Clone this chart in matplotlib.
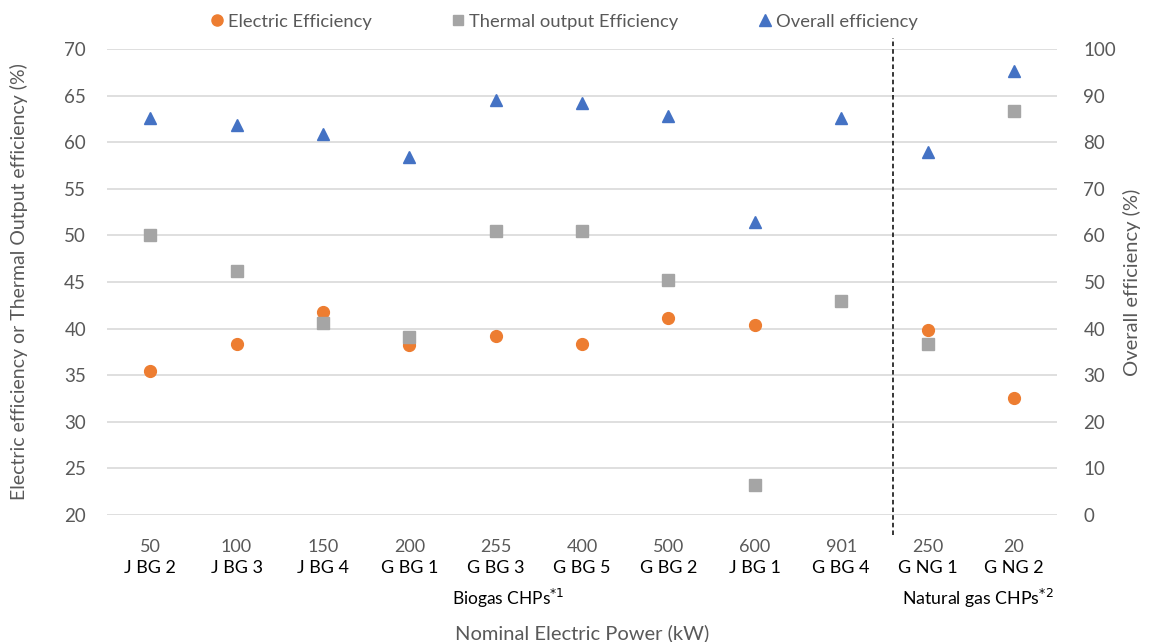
import numpy as np
import matplotlib
matplotlib.use('Agg')

import matplotlib.pyplot as plt
from matplotlib.lines import Line2D

plt.rcParams['font.family'] = ['Lato', 'DejaVu Sans']

# Nominal power (kW) and unit names
power_kw = ["50", "100", "150", "200", "255", "400", "500", "600", "901", "250", "20"]
units = ["J BG 2", "J BG 3", "J BG 4", "G BG 1", "G BG 3", "G BG 5",
         "G BG 2", "J BG 1", "G BG 4", "G NG 1", "G NG 2"]

# Efficiencies in %
electric = [35.5, 38.4, 41.8, 38.2, 39.2, 38.4, 41.1, 40.35, np.nan, 39.9, 32.6]
thermal = [50.0, 46.15, 40.6, 39.1, 50.5, 50.5, 45.2, 23.2, 43.0, 38.35, 63.3]
overall = [85.1, 83.6, 81.7, 76.9, 89.0, 88.5, 85.6, 62.9, 85.1, 77.8, 95.2]

groups = ["Biogas CHPs$^{*1}$", "Natural gas CHPs$^{*2}$"]
n_biogas = 9

ORANGE = "#ED7D31"
GREY = "#A5A5A5"
BLUE = "#4472C4"
TEXT = "#595959"


def main():
    fig = plt.figure(figsize=(11.49, 6.42), dpi=100)
    ax = fig.add_axes([0.0931, 0.1978, 0.8269, 0.7259])
    ax2 = ax.twinx()

    x = np.arange(len(units))

    ax.plot(x, electric, 'o', color=ORANGE, markersize=8.5, zorder=3)
    ax.plot(x, thermal, 's', color=GREY, markersize=8, zorder=3)
    ax2.plot(x, overall, '^', color=BLUE, markersize=8.5, zorder=3)

    ax.set_xlim(-0.5, len(units) - 0.5)
    ax.set_ylim(20, 70)
    ax.set_yticks(np.arange(20, 71, 5))
    ax2.set_ylim(0, 100)
    ax2.set_yticks(np.arange(0, 101, 10))

    ax.grid(axis='y', color='#D9D9D9', linewidth=1.2)
    ax.set_axisbelow(True)
    for a in (ax, ax2):
        for s in a.spines.values():
            s.set_visible(False)
        a.tick_params(length=0, labelsize=13.5, labelcolor=TEXT)
    ax.tick_params(axis='y', pad=15)
    ax2.tick_params(axis='y', pad=19)

    ax.set_xticks(x)
    ax.set_xticklabels(power_kw)
    ax.tick_params(axis='x', pad=17, labelsize=13)

    # unit names under the power values
    trans = ax.get_xaxis_transform()
    for xi, name in zip(x, units):
        ax.text(xi, -0.114, name, transform=trans, ha='center', va='center',
                fontsize=13, color='black')

    # group labels
    ax.text(4.15, -0.18, groups[0], transform=trans,
            ha='center', va='center', fontsize=12.5, color='black')
    ax.text(9.58, -0.18, groups[1], transform=trans,
            ha='center', va='center', fontsize=12.8, color='black')

    # divider between biogas and natural gas units
    ax.add_line(Line2D([8.6, 8.6], [-0.043, 1.024], transform=trans,
                       color='black', linestyle=(0, (3, 2)), linewidth=1.1,
                       clip_on=False))

    ax.set_xlabel("Nominal Electric Power (kW)", fontsize=14.5, color=TEXT,
                  labelpad=50)
    ax.set_ylabel("Electric efficiency or Thermal Output efficiency (%)",
                  fontsize=14, color=TEXT, labelpad=26)
    ax2.set_ylabel("Overall efficiency (%)", fontsize=14.5, color=TEXT,
                   labelpad=5)

    handles = [
        Line2D([], [], marker='o', color=ORANGE, linestyle='none', markersize=8),
        Line2D([], [], marker='s', color=GREY, linestyle='none', markersize=7.5),
        Line2D([], [], marker='^', color=BLUE, linestyle='none', markersize=8),
    ]
    labels = ["Electric Efficiency", "Thermal output Efficiency", "Overall efficiency"]
    fig.legend(handles, labels, loc='center', bbox_to_anchor=(0.49, 0.966),
               ncol=3, frameon=False, fontsize=13.2, labelcolor=TEXT,
               handletextpad=0.1, columnspacing=4.2, handlelength=1.0)

    fig.savefig("out.png", dpi=100)


if __name__ == "__main__":
    main()
